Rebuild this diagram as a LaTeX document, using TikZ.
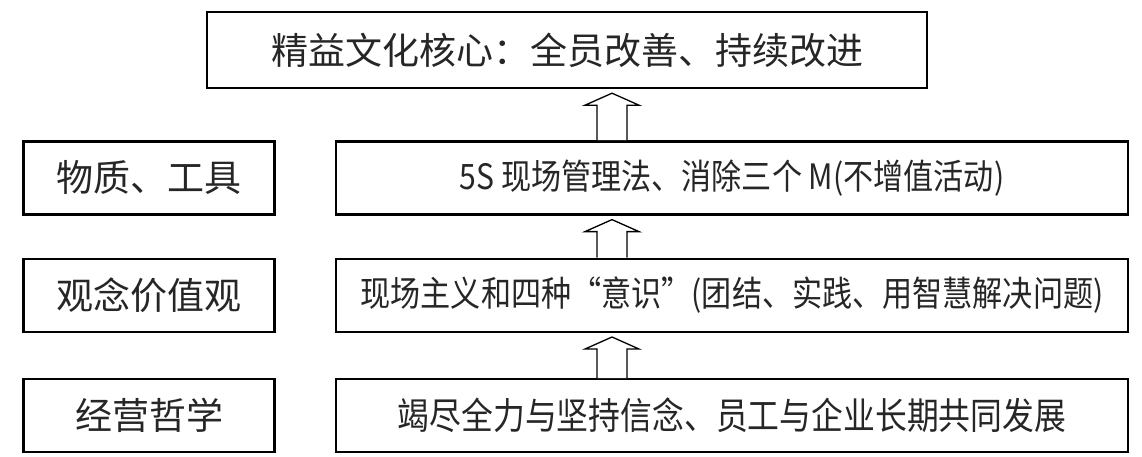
\documentclass[tikz,border=0pt]{standalone}
\usepackage{fontspec}
\newfontfamily\cjk{Noto Sans CJK SC}
\newfontfamily\cjknarrow[FakeStretch=0.86]{Noto Sans CJK SC}
\usetikzlibrary{positioning,calc}

\begin{document}
\begin{tikzpicture}[
  x=1pt, y=1pt,
  box/.style={draw=black, line width=2.4pt, inner sep=0pt, align=center, text=black!85},
  core/.style={box, minimum width=720pt, minimum height=76pt, font=\cjk\fontsize{37}{40}\selectfont},
  item/.style={box, minimum width=792pt, minimum height=73pt, font=\cjknarrow\fontsize{35}{38}\selectfont},
  side/.style={box, minimum width=251pt, minimum height=73pt, font=\cjk\fontsize{37}{40}\selectfont},
  uparrow/.style={draw=black, line width=1.3pt, fill=white, line join=miter}
]
\useasboundingbox (0,0) rectangle (1142,-456);

\node[core] (lean) at (567,-50) {精益文化核心：全员改善、持续改进};

\node[item, below=51pt of lean.south, xshift=165pt] (tools) {5S 现场管理法、消除三个 M(不增值活动)};
\node[item, below=42pt of tools] (mind) {现场主义和四种“意识”(团结、实践、用智慧解决问题)};
\node[item, below=45pt of mind, font=\cjknarrow\fontsize{37}{40}\selectfont] (base) {竭尽全力与坚持信念、员工与企业长期共同发展};

\node[side, left=59pt of tools] (matter) {物质、工具};
\node[side, left=59pt of mind] (values) {观念价值观};
\node[side, left=59pt of base] (philo) {经营哲学};

\coordinate (axis) at (612,0);

% hollow arrows pointing up
\foreach \lo/\hi in {tools/lean, mind/tools, base/mind}
  \draw[uparrow] let \p1=(axis |- \lo.north), \p2=(axis |- \hi.south) in
    (\x1-15pt,\y1) -- (\x1-15pt,\y2-16pt) -- (\x1-27pt,\y2-16pt) -- (\x1,\y2-4pt)
    -- (\x1+27pt,\y2-16pt) -- (\x1+15pt,\y2-16pt) -- (\x1+15pt,\y1);
\end{tikzpicture}
\end{document}
